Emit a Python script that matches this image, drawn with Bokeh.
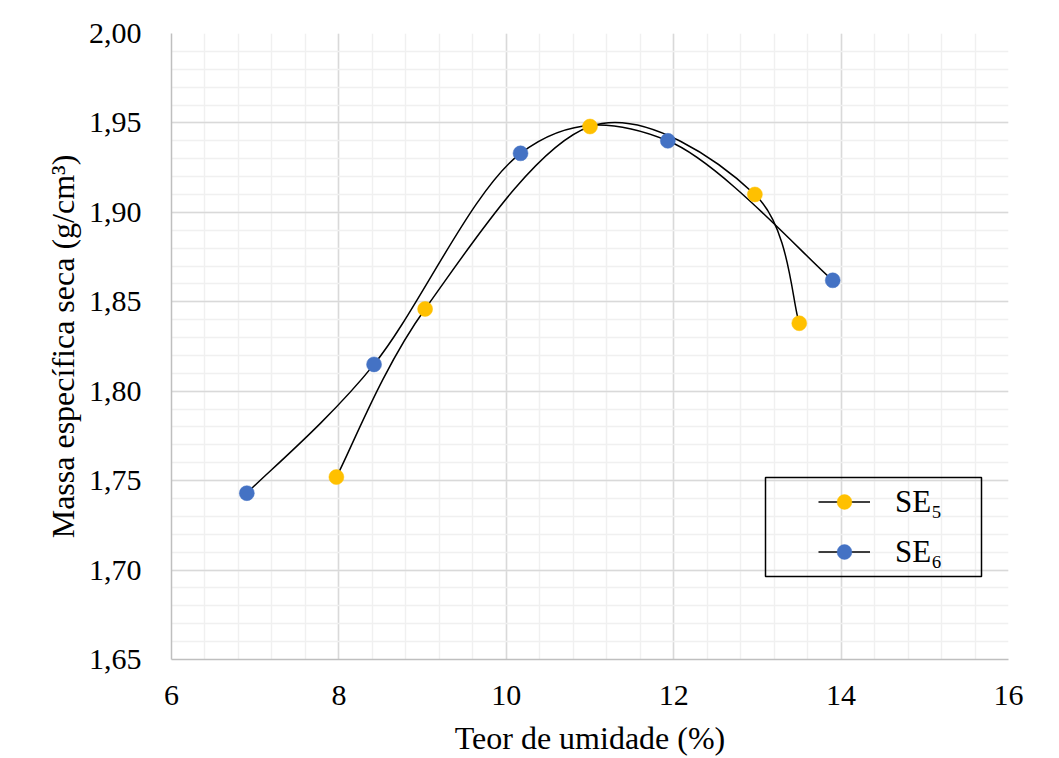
import numpy as np
from bokeh.plotting import figure
from bokeh.models import (Range1d, FixedTicker, Legend, LegendItem, BoxAnnotation)
from bokeh.embed import file_html
from bokeh.resources import INLINE

# ---- data ----
se5_x = [7.97, 9.03, 11.00, 12.97, 13.50]
se5_y = [1.752, 1.846, 1.948, 1.910, 1.838]
se6_x = [6.90, 8.42, 10.17, 11.93, 13.90]
se6_y = [1.743, 1.815, 1.933, 1.940, 1.862]

x_ticks = [6, 8, 10, 12, 14, 16]
x_tick_labels = ["6", "8", "10", "12", "14", "16"]
y_ticks = [1.65, 1.70, 1.75, 1.80, 1.85, 1.90, 1.95, 2.00]
y_tick_labels = ["1,65", "1,70", "1,75", "1,80", "1,85", "1,90", "1,95", "2,00"]

series_names = ["SE\u2085", "SE\u2086"]
series_colors = ["#FFC000", "#4472C4"]

FONT = "Liberation Serif"


def smooth_segments(xs, ys):
    """Excel-style smoothed line: cubic Bezier segments (Catmull-Rom tangents)."""
    P = np.column_stack([xs, ys]).astype(float)
    n = len(P)
    out = {k: [] for k in ("x0", "y0", "x1", "y1", "cx0", "cy0", "cx1", "cy1")}
    for i in range(n - 1):
        p0 = P[max(i - 1, 0)]
        p1 = P[i]
        p2 = P[i + 1]
        p3 = P[min(i + 2, n - 1)]
        c1 = p1 + (p2 - p0) / 6.0
        c2 = p2 - (p3 - p1) / 6.0
        out["x0"].append(p1[0]); out["y0"].append(p1[1])
        out["x1"].append(p2[0]); out["y1"].append(p2[1])
        out["cx0"].append(c1[0]); out["cy0"].append(c1[1])
        out["cx1"].append(c2[0]); out["cy1"].append(c2[1])
    return out


p = figure(frame_width=837, frame_height=626,
           min_border_left=171, min_border_right=48,
           min_border_top=33, min_border_bottom=93,
           x_range=Range1d(x_ticks[0], x_ticks[-1]),
           y_range=Range1d(y_ticks[0], y_ticks[-1]),
           output_backend="svg", toolbar_location=None)

p.outline_line_color = None
p.background_fill_color = "white"
p.border_fill_color = "white"

# grid
x_minor = list(np.round(np.arange(x_ticks[0], x_ticks[-1] + 1e-9, 0.4), 6))
y_minor = list(np.round(np.arange(y_ticks[0], y_ticks[-1] + 1e-9, 0.01), 6))
p.xaxis.ticker = FixedTicker(ticks=x_ticks, minor_ticks=x_minor)
p.yaxis.ticker = FixedTicker(ticks=y_ticks, minor_ticks=y_minor)
p.xaxis.major_label_overrides = {t: l for t, l in zip(x_ticks, x_tick_labels)}
p.yaxis.major_label_overrides = {t: l for t, l in zip(y_ticks, y_tick_labels)}

for g in (p.xgrid, p.ygrid):
    g.grid_line_color = "#d9d9d9"
    g.grid_line_width = 1.5
    g.minor_grid_line_color = "#f0f0f0"
    g.minor_grid_line_width = 1.5

for ax in (p.xaxis, p.yaxis):
    ax.axis_line_color = "#bfbfbf"
    ax.axis_line_width = 1.5
    ax.major_tick_line_color = None
    ax.minor_tick_line_color = None
    ax.major_label_text_font = FONT
    ax.major_label_text_font_size = "30px"
    ax.major_label_text_color = "black"
    ax.axis_label_text_font = FONT
    ax.axis_label_text_font_size = "32px"
    ax.axis_label_text_font_style = "normal"
    ax.axis_label_text_color = "black"

p.xaxis.axis_label = "Teor de umidade (%)"
p.yaxis.axis_label = "Massa específica seca (g/cm³)"
p.xaxis.major_label_standoff = 20
p.xaxis.axis_label_standoff = 12
p.yaxis.major_label_standoff = 24
p.yaxis.axis_label_standoff = 5

items = []
for (xs, ys), name, col in zip([(se5_x, se5_y), (se6_x, se6_y)], series_names, series_colors):
    seg = smooth_segments(xs, ys)
    br = p.bezier(x0=seg["x0"], y0=seg["y0"], x1=seg["x1"], y1=seg["y1"],
                  cx0=seg["cx0"], cy0=seg["cy0"], cx1=seg["cx1"], cy1=seg["cy1"],
                  line_color="black", line_width=1.5)
    items.append((name, col, br))

scatters = []
for (xs, ys), name, col in zip([(se5_x, se5_y), (se6_x, se6_y)], series_names, series_colors):
    sr = p.scatter(xs, ys, size=15, fill_color=col, line_color=col, line_width=0.5)
    scatters.append(sr)

legend = Legend(
    items=[LegendItem(label=name, renderers=[br, sr]) for (name, col, br), sr in zip(items, scatters)],
    location=(641, 83),
    glyph_width=52, glyph_height=37, spacing=13, padding=6,
    label_standoff=25,
    label_text_font=FONT, label_text_font_size="31px", label_text_color="black",
    border_line_alpha=0, background_fill_alpha=0,
)
p.add_layout(legend, "center")

box = BoxAnnotation(left=765, right=981, top=477, bottom=576,
                    left_units="canvas", right_units="canvas",
                    top_units="canvas", bottom_units="canvas",
                    fill_alpha=0, line_color="black", line_alpha=1.0, line_width=1.5)
p.add_layout(box)

# chart-area border (light gray)
outer = BoxAnnotation(left=7, right=1100, top=5, bottom=900,
                      left_units="canvas", right_units="canvas",
                      top_units="canvas", bottom_units="canvas",
                      fill_alpha=0, line_color="#d9d9d9", line_alpha=1.0, line_width=1.5)
p.add_layout(outer)

open("out.html", "w").write(file_html(p, INLINE))
